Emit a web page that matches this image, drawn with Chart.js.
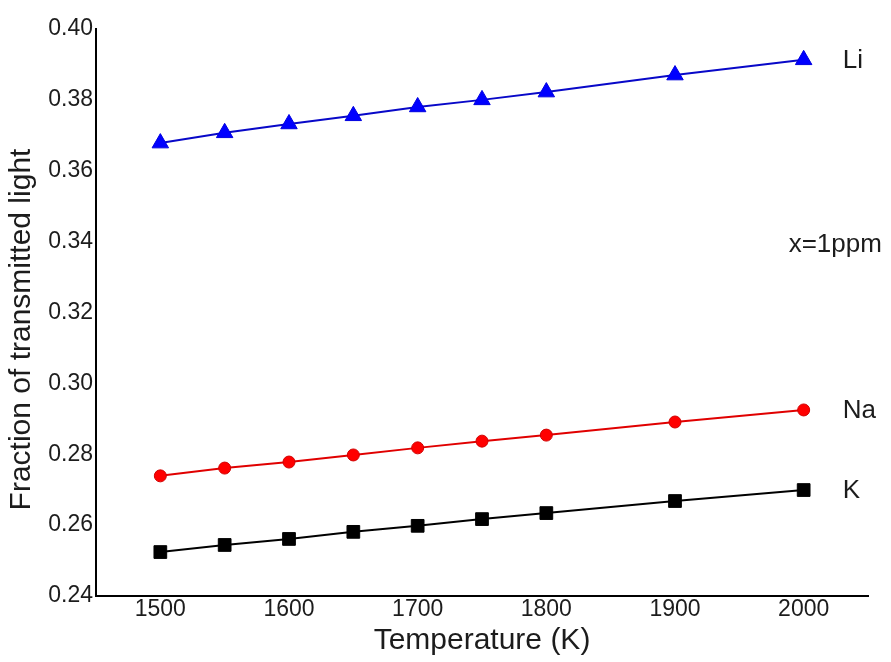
<!DOCTYPE html>
<html>
<head>
<meta charset="utf-8">
<script src="https://cdn.jsdelivr.net/npm/chart.js@4/dist/chart.umd.min.js"></script>
<style>
	body { margin: 0; background: #fff; }
	#wrap { width: 891px; height: 662px; position: relative; }
</style>
</head>
<body>
<div id="wrap"><canvas id="chart"></canvas></div>
<script>
	"use strict";
	// values
	const temperatures = [1500, 1550, 1600, 1650, 1700, 1750, 1800, 1900, 2000];
	const liValues = [0.3678, 0.3707, 0.3732, 0.3755, 0.3780, 0.3800, 0.3822, 0.3870, 0.3913];
	const naValues = [0.2739, 0.2761, 0.2778, 0.2798, 0.2818, 0.2837, 0.2854, 0.2891, 0.2925];
	const kValues = [0.2524, 0.2544, 0.2561, 0.2581, 0.2598, 0.2617, 0.2634, 0.2668, 0.2699];
	const xTicks = [1500, 1600, 1700, 1800, 1900, 2000];
	const seriesNames = ["Li", "Na", "K"];
	const noteText = "x=1ppm";
	const yTitle = "Fraction of transmitted light";

	const FONT = "'Liberation Sans', Arial, sans-serif";
	const INK = "#1c1c1c";

	function toPoints(aValues) {
		return temperatures.map(function (t, i) {
			return {x: t, y: aValues[i]};
		});
	}
	function last(a) {
		return a[a.length - 1];
	}

	// series names next to the last point, the free note and the y title
	const labelPlugin = {
		id: "seriesLabels",
		afterDatasetsDraw: function (chart) {
			const ctx = chart.ctx;
			const xs = chart.scales.x;
			const ys = chart.scales.y;
			ctx.save();
			ctx.font = "26px " + FONT;
			ctx.fillStyle = INK;
			ctx.textBaseline = "middle";
			ctx.textAlign = "left";
			chart.data.datasets.forEach(function (ds) {
				const p = last(ds.data);
				ctx.fillText(ds.label, xs.getPixelForValue(p.x) + 39, ys.getPixelForValue(p.y) + 1);
			});
			ctx.fillText(noteText, xs.getPixelForValue(last(temperatures)) - 15, ys.getPixelForValue(0.339));

			// y title sits a little below the middle of the axis in the original
			ctx.font = "30px " + FONT;
			ctx.textAlign = "center";
			ctx.translate(22, (ys.top + ys.bottom) / 2 + 17);
			ctx.rotate(-Math.PI / 2);
			ctx.fillText(yTitle, 0, 0);
			ctx.restore();
		}
	};

	const chart = new Chart(document.getElementById("chart"), {
		type: "scatter",
		data: {
			datasets: [
				{
					label: seriesNames[0],
					data: toPoints(liValues),
					showLine: true,
					borderColor: "#0808c8",
					backgroundColor: "#0000ff",
					borderWidth: 2,
					pointStyle: "triangle",
					pointRadius: 9.5,
					pointBorderWidth: 1,
					pointBorderColor: "#0000e0"
				},
				{
					label: seriesNames[1],
					data: toPoints(naValues),
					showLine: true,
					borderColor: "#e00000",
					backgroundColor: "#ff0000",
					borderWidth: 2,
					pointStyle: "circle",
					pointRadius: 6,
					pointBorderWidth: 1,
					pointBorderColor: "#d00000"
				},
				{
					label: seriesNames[2],
					data: toPoints(kValues),
					showLine: true,
					borderColor: "#000000",
					backgroundColor: "#000000",
					borderWidth: 2,
					pointStyle: "rect",
					pointRadius: 9,
					pointBorderWidth: 1,
					pointBorderColor: "#000000"
				}
			]
		},
		options: {
			responsive: true,
			maintainAspectRatio: false,
			animation: false,
			layout: {
				padding: {top: 29, right: 23, left: 0, bottom: 0}
			},
			scales: {
				x: {
					type: "linear",
					min: 1450,
					max: 2050,
					afterBuildTicks: function (scale) {
						scale.ticks = xTicks.map(function (v) { return {value: v}; });
					},
					afterFit: function (scale) {
						scale.height = 66;
					},
					grid: {display: false, drawTicks: false},
					border: {display: true, color: "#000", width: 2},
					ticks: {
						padding: 0,
						color: INK,
						font: {family: FONT, size: 23},
						callback: function (v) { return String(v); }
					},
					title: {
						display: true,
						text: "Temperature (K)",
						color: INK,
						font: {family: FONT, size: 30, lineHeight: 1.2},
						padding: {top: 0, bottom: 3}
					}
				},
				y: {
					type: "linear",
					min: 0.24,
					max: 0.40,
					afterFit: function (scale) {
						scale.width = 96;
					},
					grid: {display: false, drawTicks: false},
					border: {display: true, color: "#000", width: 2},
					ticks: {
						stepSize: 0.02,
						padding: 3,
						color: INK,
						font: {family: FONT, size: 23},
						callback: function (v) { return Number(v).toFixed(2); }
					}
				}
			},
			plugins: {
				legend: {display: false},
				tooltip: {enabled: false}
			}
		},
		plugins: [labelPlugin]
	});
</script>
</body>
</html>
